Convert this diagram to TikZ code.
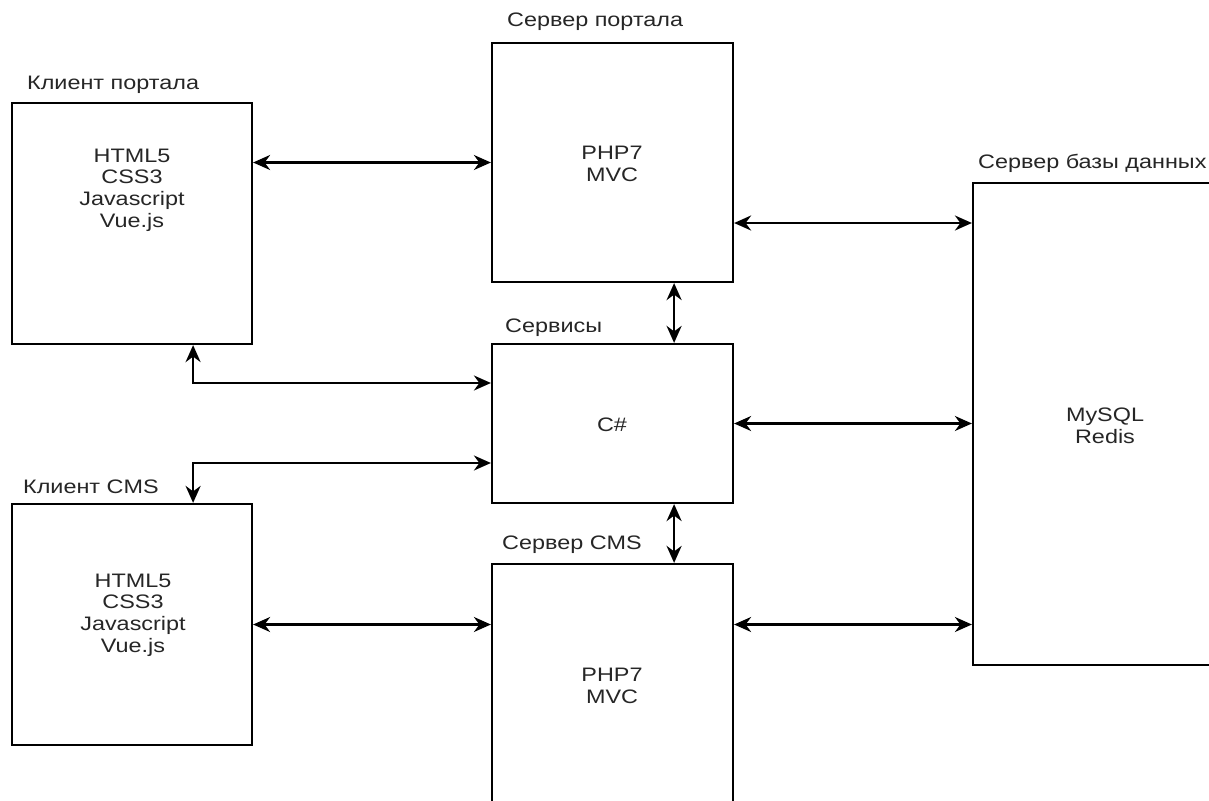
\documentclass[tikz,border=0pt]{standalone}
\usepackage{fontspec}
\setmainfont{Liberation Sans}
\newfontfamily\lbl[FakeStretch=1.2]{Liberation Sans}
\usetikzlibrary{arrows.meta}
\definecolor{ink}{HTML}{262626}
\begin{document}
\begin{tikzpicture}[x=1pt,y=-1pt,
  block/.style={draw=black, line width=2.2pt, fill=white, inner sep=0pt},
  boxtitle/.style={anchor=west, text=ink, font=\lbl\fontsize{19.5}{21.7}\selectfont, inner sep=0pt},
  body/.style={align=center, text=ink, font=\lbl\fontsize{19.5}{21.7}\selectfont, inner sep=0pt},
  link/.style={line width=2.2pt, {Stealth[length=17pt,width=15pt,inset=5.5pt]}-{Stealth[length=17pt,width=15pt,inset=5.5pt]}}
]
\useasboundingbox (0,0) rectangle (1209,800);
\clip (0,0) rectangle (1209,800);
\fill[white] (0,0) rectangle (1209,800);

% component boxes
\node[block, minimum width=240pt, minimum height=241pt] (cp) at (132,223.5) {};
\node[block, minimum width=241pt, minimum height=239pt] (sp) at (612.5,162.5) {};
\node[block, minimum width=241pt, minimum height=159pt] (sv) at (612.5,423.5) {};
\node[block, minimum width=264pt, minimum height=482pt] (db) at (1105,424) {};
\node[block, minimum width=240pt, minimum height=241pt] (cc) at (132,624.5) {};
\node[block, minimum width=241pt, minimum height=266pt] (sc) at (612.5,697) {};

% captions above the boxes
\node[boxtitle] (cpl) at (27,85) {Клиент портала};
\node[boxtitle] (spl) at (507,22) {Сервер портала};
\node[boxtitle] (svl) at (505,328) {Сервисы};
\node[boxtitle] (dbl) at (978,163) {Сервер базы данных};
\node[boxtitle] (ccl) at (23,487) {Клиент CMS};
\node[boxtitle] (scl) at (502,545) {Сервер CMS};

% box contents
\node[body] (cpt) at (132,190) {HTML5\\CSS3\\Javascript\\Vue.js};
\node[body] (spt) at (612,164) {PHP7\\MVC};
\node[body] (svt) at (612,425) {C\#};
\node[body] (dbt) at (1105,426) {MySQL\\Redis};
\node[body] (cct) at (133,615) {HTML5\\CSS3\\Javascript\\Vue.js};
\node[body] (sct) at (612,686) {PHP7\\MVC};

% connections
\draw[link] (cp.east |- sp.west) -- (sp.west);
\draw[link] (sp.east |- 0,223) -- (db.west |- 0,223);
\draw[link] ([xshift=-60pt]sp.south east) -- ([xshift=-60pt]sv.north east);
\draw[link] ([xshift=-60pt]cp.south east) |- (sv.west |- 0,383);
\draw[link] (sv.west |- 0,463) -| ([xshift=-60pt]cc.north east);
\draw[link] (sv.east) -- (sv.east -| db.west);
\draw[link] ([xshift=-60pt]sv.south east) -- ([xshift=-60pt]sc.north east);
\draw[link] (cc.east) -- (cc.east -| sc.west);
\draw[link] (sc.east |- cc.east) -- (db.west |- cc.east);
\end{tikzpicture}
\end{document}
